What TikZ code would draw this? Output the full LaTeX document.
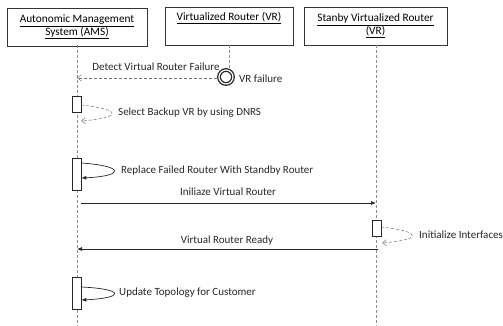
\documentclass[tikz,border=0pt]{standalone}
\usepackage{fontspec}
\setmainfont{Carlito}
\usetikzlibrary{arrows.meta}
\begin{document}
\begin{tikzpicture}[x=1pt,y=-1pt,
  obj/.style={draw=black!80, line width=0.7pt, fill=white, inner sep=0pt, align=center, font=\fontsize{11.3}{13}\selectfont},
  life/.style={draw=black!45, dash pattern=on 3pt off 2pt, line width=0.5pt},
  act/.style={draw=black!85, fill=white, line width=0.6pt, minimum width=9pt, inner sep=0pt},
  lbl/.style={font=\fontsize{11}{12}\selectfont, text=black!85, inner sep=1pt},
  msg/.style={draw=black!85, line width=0.7pt, -{Latex[length=5pt,width=4pt]}},
  ret/.style={draw=black!55, dash pattern=on 3pt off 2pt, line width=0.5pt, -{Straight Barb[length=4pt,width=6pt]}}
]
\useasboundingbox (0,0) rectangle (503,326);
% objects
\node[obj, minimum width=140pt, minimum height=38pt] (ams) at (77,27) {\underline{Autonomic Management}\\\underline{System (AMS)}};
\node[obj, minimum width=128pt, minimum height=38pt, anchor=north] (vr) at (229,7) {};
\node[anchor=north, font=\fontsize{11.3}{13}\selectfont, inner sep=0pt] (vrt) at (229,12) {\underline{Virtualized Router (VR)}};
\node[obj, minimum width=143pt, minimum height=38pt] (svr) at (375.5,26) {\underline{Stanby Virtualized Router}\\\underline{(VR)}};
% lifeline ends
\coordinate (amsE) at (77,326);
\coordinate (svrE) at (376,326);
\coordinate (amsT) at (77,45);
\coordinate (vrT) at (229,45);
\coordinate (svrT) at (376,45);
% failure circle
\node[circle, draw=black!85, double=white, double distance=1.2pt, line width=1.3pt, minimum size=14pt, inner sep=0pt] (fail) at (226,77) {};
\draw[life] (amsT) -- (amsE);
\draw[life] (svrT) -- (svrE);
\draw[life] (vrT) -- (vrT|-fail.north);
\node[lbl, anchor=west] (faill) at (238,79) {VR failure};
% detect
\coordinate (d1) at (77,78);
\draw[ret] (fail.west) ++(-1,1) -- (d1);
\node[lbl] (detl) at (156,67) {Detect Virtual Router Failure};
% act 1
\node[act, minimum height=16pt] (a1) at (76.5,104) {};
\coordinate (a1in) at (81,121);
\draw[ret] (a1.east|-0,105) .. controls (125,110) and (120,118) .. (a1in);
\node[lbl, anchor=west] (a1l) at (117,113) {Select Backup VR by using DNRS};
% act 2
\node[act, minimum height=32pt] (a2) at (76.5,174) {};
\draw[msg] (a2.east|-0,163) .. controls (125,166) and (125,176) .. (a2.east|-0,178);
\node[lbl, anchor=west] (a2l) at (120,171) {Replace Failed Router With Standby Router};
% initialize
\coordinate (i1) at (81,203);
\coordinate (i2) at (376,203);
\draw[msg] (i1) -- (i2);
\node[lbl] (il) at (228,192) {Iniliaze Virtual Router};
% act 3
\node[act, minimum height=16pt] (a3) at (376.5,228) {};
\coordinate (a3in) at (382,243);
\draw[ret] (a3.east|-0,227) .. controls (425,232) and (420,240) .. (a3in);
\node[lbl, anchor=west] (a3l) at (418,235) {Initialize Interfaces};
% ready
\coordinate (r1) at (378,249);
\coordinate (r2) at (77,249);
\draw[msg] (r1) -- (r2);
\node[lbl] (rl) at (227,241) {Virtual Router Ready};
% act 4
\node[act, minimum height=32pt] (a4) at (76.5,293) {};
\draw[msg] (a4.east|-0,287) .. controls (125,289) and (125,298) .. (a4.east|-0,300);
\node[lbl, anchor=west] (a4l) at (118,293) {Update Topology for Customer};
\end{tikzpicture}
\end{document}
